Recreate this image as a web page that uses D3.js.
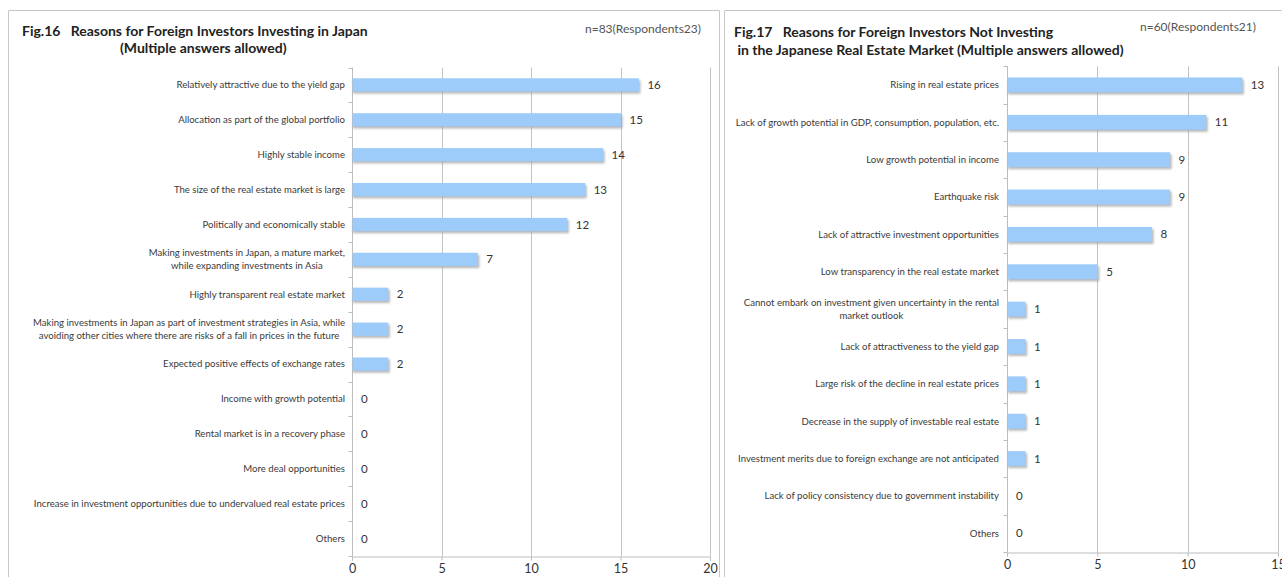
<!DOCTYPE html>
<html>
<head>
<meta charset="utf-8">
<script src="https://cdn.jsdelivr.net/npm/d3@7/dist/d3.min.js"></script>
<style>
  html, body { margin: 0; padding: 0; background: #fff; }
  svg { display: block; }
  text { font-family: Lato, "Open Sans", sans-serif; }
</style>
</head>
<body>
<svg id="chart" width="1282" height="577"></svg>
<script>
// ---------- data ----------
const leftCategories = [
  "Relatively attractive due to the yield gap",
  "Allocation as part of the global portfolio",
  "Highly stable income",
  "The size of the real estate market is large",
  "Politically and economically stable",
  "Making investments in Japan, a mature market,\nwhile expanding investments in Asia",
  "Highly transparent real estate market",
  "Making investments in Japan as part of investment strategies in Asia, while\navoiding other cities where there are risks of a fall in prices in the future",
  "Expected positive effects of exchange rates",
  "Income with growth potential",
  "Rental market is in a recovery phase",
  "More deal opportunities",
  "Increase in investment opportunities due to undervalued real estate prices",
  "Others"
];
const leftValues = [16, 15, 14, 13, 12, 7, 2, 2, 2, 0, 0, 0, 0, 0];
const leftTicks = [0, 5, 10, 15, 20];

const rightCategories = [
  "Rising in real estate prices",
  "Lack of growth potential in GDP, consumption, population, etc.",
  "Low growth potential in income",
  "Earthquake risk",
  "Lack of attractive investment opportunities",
  "Low transparency in the real estate market",
  "Cannot embark on investment given uncertainty in the rental\nmarket outlook",
  "Lack of attractiveness to the yield gap",
  "Large risk of the decline in real estate prices",
  "Decrease in the supply of investable real estate",
  "Investment merits due to foreign exchange are not anticipated",
  "Lack of policy consistency due to government instability",
  "Others"
];
const rightValues = [13, 11, 9, 9, 8, 5, 1, 1, 1, 1, 1, 0, 0];
const rightTicks = [0, 5, 10, 15];

const leftTitle = ["Fig.16   Reasons for Foreign Investors Investing in Japan", "(Multiple answers allowed)"];
const leftNote = "n=83(Respondents23)";
const rightTitle = ["Fig.17   Reasons for Foreign Investors Not Investing", " in the Japanese Real Estate Market (Multiple answers allowed)"];
const rightNote = "n=60(Respondents21)";

// ---------- drawing ----------
const svg = d3.select("#chart");
const defs = svg.append("defs");
defs.append("filter").attr("id", "shadow").attr("x", "-10%").attr("y", "-50%").attr("width", "130%").attr("height", "200%")
  .append("feGaussianBlur").attr("stdDeviation", 1);

// panel borders
svg.append("path").attr("d", "M8.5,600 V10.5 H719.5 V600").attr("fill", "none").attr("stroke", "#c8c8c8");
svg.append("path").attr("d", "M724.5,600 V10.5 H1300").attr("fill", "none").attr("stroke", "#c8c8c8");

function drawPanel(cfg) {
  const g = svg.append("g");
  const x = d3.scaleLinear().domain(cfg.domain).range(cfg.xRange);
  const y = d3.scaleBand().domain(cfg.categories).range(cfg.yRange).paddingInner(cfg.pad).paddingOuter(cfg.pad / 2);
  const step = y.step();

  // gridlines
  g.append("g").selectAll("line").data(cfg.ticks.slice(1)).join("line")
    .attr("x1", d => Math.round(x(d)) + 0.5).attr("x2", d => Math.round(x(d)) + 0.5)
    .attr("y1", cfg.yRange[0]).attr("y2", cfg.yRange[1])
    .attr("stroke", "#c4c4c4").attr("stroke-width", 1);

  // x axis
  const xAxis = d3.axisBottom(x).tickValues(cfg.ticks).tickSize(4).tickPadding(4);
  const xg = g.append("g").attr("transform", `translate(0,${Math.round(cfg.yRange[1]) + 0.5})`).call(xAxis);
  xg.select(".domain").attr("stroke", "#bdbdbd");
  xg.selectAll(".tick line").attr("stroke", "#bdbdbd");
  xg.selectAll(".tick text").attr("fill", "#333").attr("font-size", 12.5).attr("font-family", "Lato, sans-serif");

  // y axis line + ticks at band boundaries
  const x0 = Math.round(x(0)) + 0.5;
  g.append("line").attr("x1", x0).attr("x2", x0).attr("y1", cfg.yRange[0]).attr("y2", cfg.yRange[1])
    .attr("stroke", "#bdbdbd");
  const bounds = d3.range(cfg.categories.length + 1).map(i => cfg.yRange[0] + i * step);
  g.append("g").selectAll("line").data(bounds).join("line")
    .attr("x1", x0 - 4).attr("x2", x0).attr("y1", d => Math.round(d) + 0.5).attr("y2", d => Math.round(d) + 0.5)
    .attr("stroke", "#bdbdbd");

  const data = cfg.categories.map((c, i) => ({ c, v: cfg.values[i] }));
  const bh = y.bandwidth();

  // shadows
  g.append("g").selectAll("rect").data(data.filter(d => d.v > 0)).join("rect")
    .attr("x", x(0) + 1).attr("y", d => y(d.c) + 2)
    .attr("width", d => x(d.v) - x(0) + 1).attr("height", bh)
    .attr("fill", "#9a9a9a").attr("opacity", 0.7).attr("filter", "url(#shadow)");
  // bars
  g.append("g").selectAll("rect").data(data).join("rect")
    .attr("x", x(0) + 0.5).attr("y", d => y(d.c))
    .attr("width", d => Math.max(0, x(d.v) - x(0))).attr("height", bh)
    .attr("fill", "#9dcbfa");

  // value labels
  g.append("g").selectAll("text").data(data).join("text")
    .attr("x", d => x(d.v) + 9).attr("y", d => y(d.c) + bh / 2)
    .attr("dy", "0.35em").attr("font-size", 11.5).attr("fill", "#333")
    .text(d => d.v);

  // category labels (multi-line, centered block right-aligned)
  const lg = g.append("g");
  data.forEach(d => {
    const lines = d.c.split("\n");
    const cy = y(d.c) + bh / 2;
    const lh = 13;
    const t = lg.append("text").attr("font-size", cfg.labelSize).attr("fill", "#3a3a3a");
    lines.forEach((ln, i) => {
      t.append("tspan").attr("y", cy + (i - (lines.length - 1) / 2) * lh).attr("dy", "0.35em").text(ln);
    });
    if (lines.length === 1) {
      t.attr("text-anchor", "end").selectAll("tspan").attr("x", cfg.labelRight);
    } else {
      const widths = [];
      t.selectAll("tspan").each(function () { widths.push(this.getComputedTextLength()); });
      const mw = d3.max(widths);
      t.attr("text-anchor", "middle").selectAll("tspan").attr("x", cfg.labelRight - mw / 2);
    }
  });

  // titles
  const tg = svg.append("g");
  cfg.title.forEach((ln, i) => {
    tg.append("text").attr("x", cfg.titlePos[i][0]).attr("y", cfg.titlePos[i][1])
      .attr("font-size", 14).attr("font-weight", "bold").attr("fill", "#222")
      .attr("xml:space", "preserve").style("white-space", "pre").text(ln);
  });
  tg.append("text").attr("x", cfg.notePos[0]).attr("y", cfg.notePos[1])
    .attr("font-size", 12).attr("fill", "#555").text(cfg.note);
}

drawPanel({
  categories: leftCategories, values: leftValues, ticks: leftTicks,
  domain: [0, 20], xRange: [352, 710], yRange: [67.5, 556], pad: 0.62,
  labelRight: 345, labelSize: 9.6,
  title: leftTitle, titlePos: [[22, 36], [120, 53]],
  note: leftNote, notePos: [585, 33]
});
drawPanel({
  categories: rightCategories, values: rightValues, ticks: rightTicks,
  domain: [0, 15], xRange: [1007, 1278], yRange: [66.3, 552], pad: 0.6,
  labelRight: 999, labelSize: 9.6,
  title: rightTitle, titlePos: [[734, 37], [734, 55]],
  note: rightNote, notePos: [1140, 31]
});
</script>
</body>
</html>
